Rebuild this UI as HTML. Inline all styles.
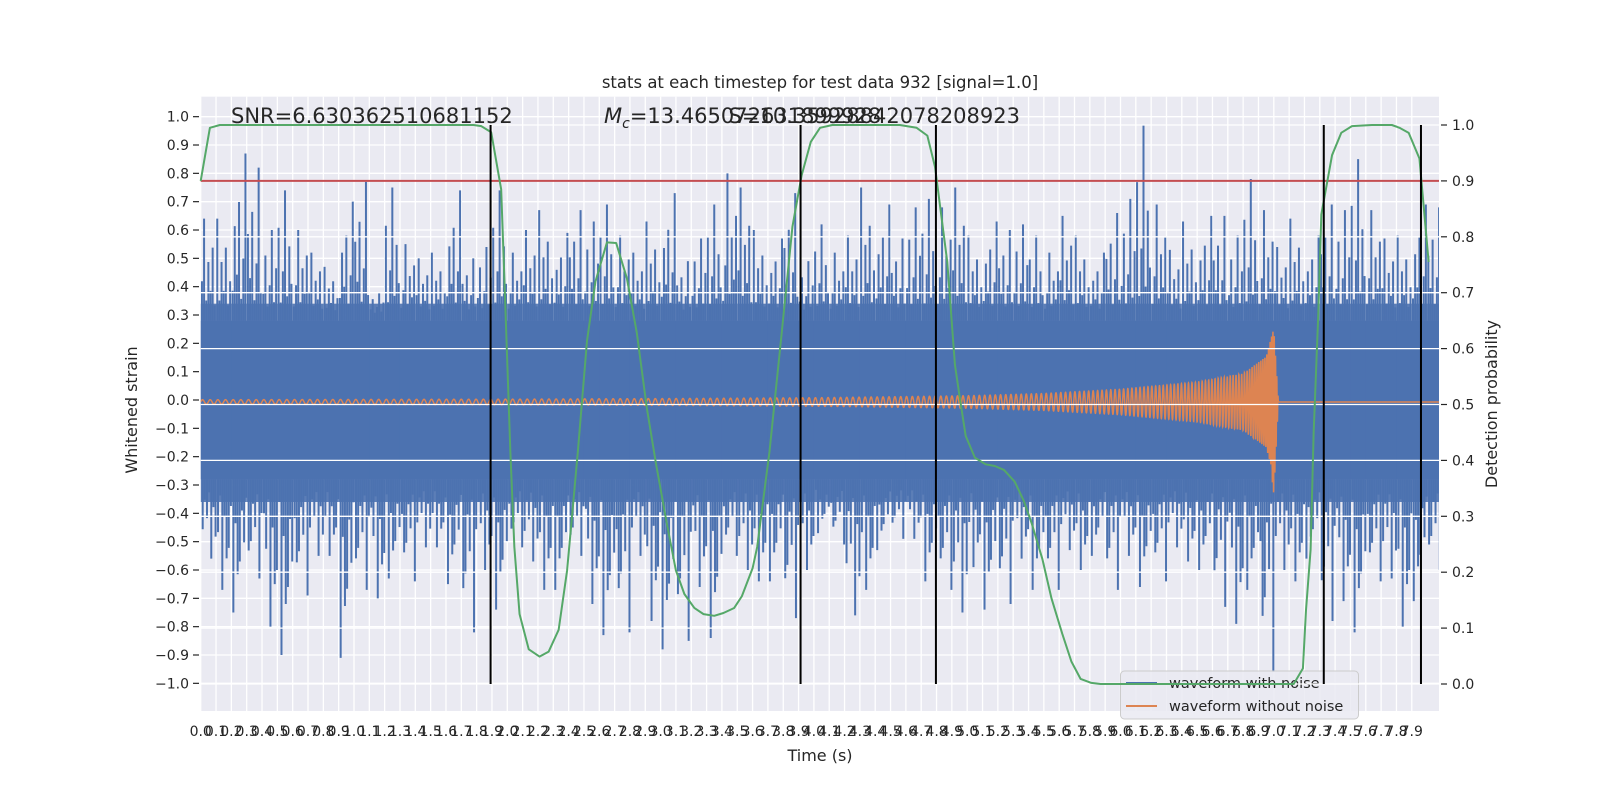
<!DOCTYPE html>
<html><head><meta charset="utf-8"><style>
html,body{margin:0;padding:0;background:#fff;}
svg{display:block;font-family:"DejaVu Sans","Liberation Sans",sans-serif;}
</style></head><body>
<svg id="chart" width="1600" height="800" viewBox="0 0 1600 800" xmlns="http://www.w3.org/2000/svg">
<defs><clipPath id="clip"><rect x="200.7" y="96.7" width="1238.3" height="614.3"/></clipPath></defs>
<rect x="200.7" y="96.7" width="1238.3" height="614.3" fill="#eaeaf2"/>
<g id="gridL"></g>
<g id="blue" clip-path="url(#clip)"></g>
<g id="orange" clip-path="url(#clip)"></g>
<g id="legend">
  <rect x="1120.5" y="671" width="238" height="48" rx="4" fill="#eaeaf2" fill-opacity="0.85" stroke="#cccccc" stroke-width="1"/>
  <line x1="1126" y1="683" x2="1157" y2="683" stroke="#4c72b0" stroke-width="2"/>
  <text x="1169" y="688" font-size="14.5" fill="#262626">waveform with noise</text>
  <line x1="1126" y1="706" x2="1157" y2="706" stroke="#dd8452" stroke-width="2"/>
  <text x="1169" y="711" font-size="14.5" fill="#262626">waveform without noise</text>
</g>
<g id="gridR"></g>
<g id="twin"></g>
<g id="axes"></g>
<text x="820" y="88" font-size="16.5" text-anchor="middle" fill="#262626">stats at each timestep for test data 932 [signal=1.0]</text>
<text x="231" y="123" font-size="21" fill="#262626">SNR=6.630362510681152</text>
<text x="604" y="123" font-size="21" fill="#262626"><tspan font-style="italic">M</tspan><tspan font-style="italic" font-size="14" dy="5">c</tspan><tspan dy="-5">=13.465072631899928</tspan></text>
<text x="1020" y="123" font-size="21" text-anchor="end" fill="#262626">S=10.35928842078208923</text>
<text x="820" y="761" font-size="16" text-anchor="middle" fill="#262626">Time (s)</text>
<text transform="translate(137,410) rotate(-90)" font-size="16" text-anchor="middle" fill="#262626">Whitened strain</text>
<text transform="translate(1497,404) rotate(-90)" font-size="16" text-anchor="middle" fill="#262626">Detection probability</text>
</svg>
<script>
// ---- data ----
const noiseMax = [0.64,0.64,0.87,0.82,0.60,0.74,0.60,0.52,0.47,0.70,0.77,0.38,0.75,0.55,0.50,0.52,0.74,0.50,0.54,0.74,0.52,0.60,0.67,0.59,0.67,0.63,0.69,0.58,0.52,0.63,0.73,0.49,0.57,0.69,0.80,0.75,0.60,0.57,0.73,0.49,0.62,0.52,0.58,0.75,0.69,0.57,0.68,0.71,0.68,0.75,0.58,0.63,0.60,0.62,0.58,0.52,0.65,0.58,0.52,0.66,0.71,0.97,0.69,0.53,0.63,0.65,0.65,0.58,0.78,0.67,0.54,0.64,0.58,0.69,0.67,0.85,0.67,0.57,0.58,0.69,0.68];
const noiseMin = [-0.56,-0.67,-0.75,-0.63,-0.80,-0.90,-0.69,-0.55,-0.55,-0.91,-0.67,-0.70,-0.63,-0.64,-0.52,-0.52,-0.65,-0.82,-0.60,-0.74,-0.52,-0.57,-0.67,-0.67,-0.55,-0.72,-0.83,-0.82,-0.55,-0.78,-0.88,-0.85,-0.66,-0.84,-0.55,-0.60,-0.64,-0.64,-0.77,-0.60,-0.47,-0.51,-0.76,-0.67,-0.53,-0.49,-0.49,-0.64,-0.67,-0.75,-0.59,-0.74,-0.72,-0.56,-0.67,-0.67,-0.53,-0.60,-0.55,-0.67,-0.55,-0.66,-0.64,-0.52,-0.57,-0.60,-0.73,-0.79,-0.67,-0.96,-0.60,-0.64,-0.56,-0.78,-0.71,-0.82,-0.64,-0.63,-0.80,-0.71,-0.60];
const binWidth = 0.1;
const chirpT   = [0, 1, 2, 3, 4, 5, 5.5, 6, 6.5, 6.8, 6.95, 7.0, 7.03, 8.08];
const chirpAmp = [0.008,0.009,0.010,0.012,0.015,0.022,0.030,0.045,0.070,0.10,0.16,0.26,0.0,0.0];
const chirpFreq= [20,20,21,22,24,28,31,36,45,55,80,120,120,120];
const chirpOffset = -0.007;
const probT = [0,0.06,0.125,1.78,1.83,1.895,1.96,1.98,2.02,2.046,2.08,2.14,2.21,2.27,2.335,2.39,2.46,2.52,2.575,2.65,2.71,2.78,2.845,2.91,2.97,3.04,3.10,3.155,3.22,3.28,3.35,3.41,3.48,3.53,3.60,3.63,3.71,3.79,3.86,3.92,3.98,4.04,4.12,4.56,4.67,4.74,4.79,4.87,4.92,4.95,4.99,5.05,5.12,5.18,5.24,5.31,5.37,5.42,5.49,5.55,5.62,5.68,5.74,5.81,5.87,7.13,7.19,7.21,7.24,7.26,7.29,7.31,7.38,7.44,7.51,7.64,7.77,7.82,7.88,7.95,8.01];
const probV = [0.90,0.995,1.0,1.0,0.998,0.987,0.885,0.733,0.415,0.245,0.125,0.062,0.049,0.058,0.097,0.203,0.415,0.614,0.72,0.79,0.789,0.726,0.628,0.494,0.394,0.288,0.203,0.161,0.136,0.125,0.122,0.127,0.136,0.157,0.207,0.245,0.415,0.628,0.818,0.91,0.97,0.995,1.0,1.0,0.995,0.981,0.925,0.755,0.571,0.515,0.444,0.405,0.393,0.39,0.383,0.362,0.327,0.288,0.224,0.153,0.09,0.04,0.009,0.002,0.0,0.0,0.028,0.132,0.24,0.45,0.66,0.84,0.946,0.986,0.998,1.0,1.0,0.995,0.986,0.94,0.755];
const detectTimes = [1.891,3.913,4.796,7.326,7.96];
const threshold = 0.9;
const xTicks = Array.from({length:80},(_,i)=>i/10);
const yLTicks = [-1.0,-0.9,-0.8,-0.7,-0.6,-0.5,-0.4,-0.3,-0.2,-0.1,0.0,0.1,0.2,0.3,0.4,0.5,0.6,0.7,0.8,0.9,1.0];
const yRTicks = [0.0,0.1,0.2,0.3,0.4,0.5,0.6,0.7,0.8,0.9,1.0];

// ---- scales ----
const L=200.7,R=1439,T=96.7,B=711;
const X=t=>200.7+t*153.3;
const YL=v=>400-v*283.33;
const YR=p=>684-p*559;
const NS='http://www.w3.org/2000/svg';
function mk(tag,attrs,parent){const e=document.createElementNS(NS,tag);for(const k in attrs)e.setAttribute(k,attrs[k]);parent.appendChild(e);return e;}
const gridL=document.getElementById('gridL'),gridR=document.getElementById('gridR'),blue=document.getElementById('blue'),orange=document.getElementById('orange'),twin=document.getElementById('twin'),axes=document.getElementById('axes');
const fmt=v=>(v<0?'\u2212':'')+Math.abs(v).toFixed(1);

// left grid
xTicks.forEach(t=>{const l=mk('line',{x1:X(t),x2:X(t),y1:T,y2:B,stroke:'#fff','stroke-width':1.3},gridL);

});
yLTicks.forEach(v=>{const l=mk('line',{x1:L,x2:R,y1:YL(v),y2:YL(v),stroke:'#fff','stroke-width':1.3},gridL);

});

// noisy waveform (texture pattern is styling only; extremes come from the arrays)
const spikePos  = [0.08,0.22,0.36,0.5,0.64,0.78,0.92];
const spikeFracUp = [0.35,1.0,0.15,0.55,0.25,0.7,0.1];
const spikeFracDn = [0.6,0.2,0.45,0.1,1.0,0.3,0.7];
const core=mk('rect',{x:X(0),y:YL(0.28),width:R-X(0),height:YL(-0.28)-YL(0.28),fill:'#4c72b0'},blue);


noiseMax.forEach((mx,i)=>{
  const mn=noiseMin[i];
  const x0=X(i*binWidth), w=X(binWidth)-X(0);
  const band=mk('rect',{x:x0,y:YL(0.34),width:w,height:YL(-0.36)-YL(0.34),fill:'#4c72b0','fill-opacity':0.9},blue);
  
  
  spikePos.forEach((p,k)=>{
    const up=0.3+(mx-0.3)*spikeFracUp[(k+i)%7];
    const s=mk('line',{x1:x0+w*p,x2:x0+w*p,y1:YL(0.28),y2:YL(up),stroke:'#4c72b0','stroke-width':2},blue);
    
    
    const dn=-0.3+(mn+0.3)*spikeFracDn[(k+2*i)%7];
    const d=mk('line',{x1:x0+w*(p+0.05),x2:x0+w*(p+0.05),y1:YL(-0.28),y2:YL(dn),stroke:'#4c72b0','stroke-width':2},blue);
    
    
  });
});

// clean chirp
function interp(xs,ys,x){for(let i=0;i<xs.length-1;i++){if(x<=xs[i+1]){const f=(x-xs[i])/(xs[i+1]-xs[i]);return ys[i]+f*(ys[i+1]-ys[i]);}}return ys[ys.length-1];}
let ph=0,pts=[];const dt=0.0005;
for(let t=0;t<=8.08;t+=dt){const a=interp(chirpT,chirpAmp,t);const f=interp(chirpT,chirpFreq,t);ph+=2*Math.PI*f*dt;
  let v=chirpOffset+a*Math.sin(ph); if(t>6.99&&t<7.03&&Math.sin(ph)<0) v=chirpOffset+a*1.25*Math.sin(ph);
  pts.push(X(t).toFixed(2)+','+YL(v).toFixed(2));}
const op=mk('polyline',{points:pts.join(' '),fill:'none',stroke:'#dd8452','stroke-width':1.5},orange);



// right grid
yRTicks.forEach(p=>{const l=mk('line',{x1:L,x2:R,y1:YR(p),y2:YR(p),stroke:'#fff','stroke-width':1.3},gridR);

});

// threshold, probability, detections
const th=mk('line',{x1:L,x2:R,y1:YR(threshold),y2:YR(threshold),stroke:'#c44e52','stroke-width':2},twin);


const gp=mk('polyline',{points:probT.map((t,i)=>X(t)+','+YR(probV[i])).join(' '),fill:'none',stroke:'#55a868','stroke-width':2,'stroke-linejoin':'round'},twin);


detectTimes.forEach(t=>{const l=mk('line',{x1:X(t),x2:X(t),y1:YR(0),y2:YR(1),stroke:'#000','stroke-width':2},twin);

});

// axes ticks & labels
yLTicks.forEach(v=>{const y=YL(v);
  const tk=mk('line',{x1:193,x2:199,y1:y,y2:y,stroke:'#262626','stroke-width':1.2},axes);
  
  
  const tx=mk('text',{x:189,y:y+5,'font-size':14,'text-anchor':'end',fill:'#262626'},axes);tx.textContent=fmt(v);
  
  });
yRTicks.forEach(p=>{const y=YR(p);
  const tk=mk('line',{x1:1441,x2:1447,y1:y,y2:y,stroke:'#262626','stroke-width':1.2},axes);
  
  
  const tx=mk('text',{x:1452,y:y+5,'font-size':14,fill:'#262626'},axes);tx.textContent=p.toFixed(1);
  
  });
xTicks.forEach(t=>{const tx=mk('text',{x:X(t),y:736,'font-size':14,'text-anchor':'middle',fill:'#262626'},axes);tx.textContent=t.toFixed(1);
  
  });
</script>
</body></html>
